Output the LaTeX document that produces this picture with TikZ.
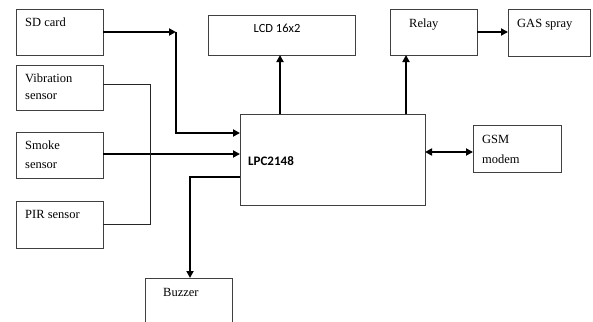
\documentclass[tikz,border=0pt]{standalone}
\usepackage{fontspec}
\setmainfont{Liberation Serif}
\newfontfamily\calib{Carlito}
\usetikzlibrary{arrows.meta}
\begin{document}
\begin{tikzpicture}[x=1pt,y=-1pt,
  box/.style={draw=black!75, line width=0.9pt, inner sep=0pt, outer sep=0pt, anchor=north west},
  txt/.style={font=\fontsize{12.5}{14}\selectfont, inner sep=0pt, anchor=base west},
  arr/.style={line width=1.8pt, -{Triangle[length=7pt,width=7pt]}},
  biarr/.style={line width=1.8pt, {Triangle[length=7pt,width=7pt]}-{Triangle[length=7pt,width=7pt]}},
  wire/.style={line width=0.9pt, black!85}]
\clip (0,0) rectangle (593,321);
\fill[white] (0,0) rectangle (593,321);
% boxes
\node[box, minimum width=87pt, minimum height=46pt] (sd) at (16,9) {};
\node[box, minimum width=87pt, minimum height=45pt] (vib) at (16,65) {};
\node[box, minimum width=87pt, minimum height=46pt] (smoke) at (16,132) {};
\node[box, minimum width=87pt, minimum height=47pt] (pir) at (16,201) {};
\node[box, minimum width=87pt, minimum height=60pt] (buz) at (145,278) {};
\node[box, minimum width=185pt, minimum height=91pt] (lpc) at (240,114) {};
\node[box, minimum width=147pt, minimum height=40pt] (lcd) at (208,15) {};
\node[box, minimum width=87pt, minimum height=46pt] (relay) at (390,9) {};
\node[box, minimum width=82pt, minimum height=47pt] (gas) at (508,9) {};
\node[box, minimum width=88pt, minimum height=47pt] (gsm) at (473,125) {};
% texts
\node[txt] (sdT) at (25,27) {SD card};
\node[txt] (vibT1) at (25,82) {Vibration};
\node[txt] (vibT2) at (25,99) {sensor};
\node[txt] (smT1) at (25,149) {Smoke};
\node[txt] (smT2) at (25,168) {sensor};
\node[txt] (pirT) at (25,218) {PIR sensor};
\node[txt] (buzT) at (163,296) {Buzzer};
\node[txt, anchor=base, font=\calib\fontsize{12.5}{14}\selectfont] (lcdT) at (277,33) {LCD 16x2};
\node[txt, font=\calib\bfseries\fontsize{13}{14}\selectfont] (lpcT) at (248,165) {LPC2148};
\node[txt] (relT) at (409,28) {Relay};
\node[txt] (gasT) at (517,28) {GAS spray};
\node[txt] (gsmT1) at (482,143) {GSM};
\node[txt] (gsmT2) at (482,163) {modem};
% connectors
\coordinate (sdk) at (176,32);
\draw[arr] (sd.east |- sdk) -- (sdk);
\draw[arr] (sdk) -- (176,133) -- (lpc.west |- 0,133);
\draw[arr] (smoke.east |- 0,154) -- (lpc.west |- 0,154);
\draw[wire] (vib.east |- 0,84) -- (150,84) -- (150,224) -- (pir.east |- 0,224);
\draw[arr] (lpc.west |- 0,177) -- (190,177) -- (buz.north -| 190,0);
\draw[arr] (lpc.north -| 280,0) -- (lcd.south -| 280,0);
\draw[arr] (lpc.north -| 406,0) -- (relay.south -| 406,0);
\draw[arr] (relay.east |- 0,32) -- (gas.west |- 0,32);
\draw[biarr] (lpc.east |- 0,152) -- (gsm.west |- 0,152);
\end{tikzpicture}
\end{document}
